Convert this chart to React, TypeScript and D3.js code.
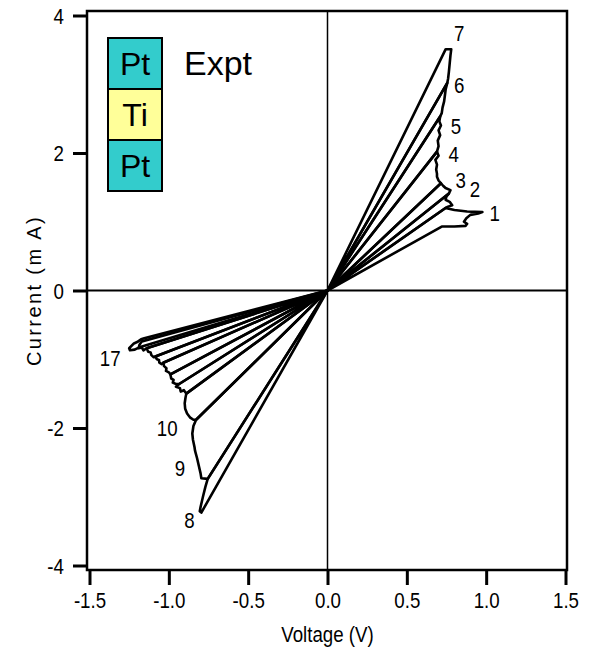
import React, { useRef, useEffect } from "react";
import * as d3 from "d3";

// I-V loops, [voltage (V), current (mA)]
const loop1 = [[0, 0], [0.744, 1.2], [0.8, 1.17], [0.88, 1.15], [0.976, 1.14], [0.95, 1.12], [0.9, 1.1], [0.875, 1.05], [0.86, 1.0], [0.88, 0.97], [0.87, 0.94], [0.8, 0.93], [0.72, 0.93], [0, 0]];
const loop2 = [[0, 0], [0.765, 1.41], [0.75, 1.37], [0.744, 1.32], [0.77, 1.29], [0.786, 1.24], [0.76, 1.22], [0.744, 1.2], [0, 0]];
const loop3 = [[0, 0], [0.715, 1.56], [0.73, 1.52], [0.744, 1.49], [0.775, 1.46], [0.765, 1.41], [0, 0]];
const loop4 = [[0, 0], [0.69, 2.02], [0.7, 1.96], [0.68, 1.9], [0.69, 1.83], [0.685, 1.76], [0.69, 1.7], [0.69, 1.655], [0.7, 1.6], [0.715, 1.56], [0, 0]];
const loop5 = [[0, 0], [0.71, 2.53], [0.705, 2.46], [0.715, 2.4], [0.7, 2.33], [0.71, 2.26], [0.695, 2.18], [0.7, 2.1], [0.69, 2.02], [0, 0]];
const loop6 = [[0, 0], [0.755, 3.02], [0.745, 2.93], [0.74, 2.84], [0.735, 2.75], [0.725, 2.66], [0.72, 2.58], [0.71, 2.53], [0, 0]];
const loop7 = [[0, 0], [0.745, 3.51], [0.78, 3.51], [0.775, 3.42], [0.77, 3.3], [0.765, 3.18], [0.76, 3.08], [0.755, 3.02], [0, 0]];
const loop8 = [[0, 0], [-0.755, -2.74], [-0.77, -2.86], [-0.785, -3.0], [-0.8, -3.15], [-0.805, -3.21], [-0.795, -3.23], [0, 0]];
const loop9 = [[0, 0], [-0.828, -1.88], [-0.845, -1.97], [-0.852, -2.08], [-0.848, -2.17], [-0.838, -2.28], [-0.835, -2.33], [-0.822, -2.44], [-0.81, -2.56], [-0.8, -2.66], [-0.795, -2.73], [-0.755, -2.74], [0, 0]];
const loop10 = [[0, 0], [-0.89, -1.5], [-0.895, -1.56], [-0.9, -1.64], [-0.897, -1.72], [-0.885, -1.79], [-0.865, -1.85], [-0.845, -1.88], [-0.828, -1.88], [0, 0]];
const loop11 = [[0, 0], [-0.935, -1.36], [-0.955, -1.4], [-0.93, -1.42], [-0.925, -1.47], [-0.905, -1.45], [-0.89, -1.5], [0, 0]];
const loop12 = [[0, 0], [-0.99, -1.22], [-0.985, -1.28], [-0.97, -1.3], [-0.975, -1.34], [-0.955, -1.36], [-0.935, -1.36], [0, 0]];
const loop13 = [[0, 0], [-1.035, -1.05], [-1.03, -1.1], [-1.015, -1.13], [-1.018, -1.17], [-1.0, -1.19], [-0.99, -1.22], [0, 0]];
const loop14 = [[0, 0], [-1.085, -0.96], [-1.075, -1.0], [-1.062, -1.01], [-1.06, -1.05], [-1.045, -1.07], [-1.035, -1.05], [0, 0]];
const loop15 = [[0, 0], [-1.14, -0.84], [-1.13, -0.89], [-1.115, -0.9], [-1.11, -0.94], [-1.095, -0.97], [-1.085, -0.96], [0, 0]];
const loop16 = [[0, 0], [-1.17, -0.74], [-1.185, -0.79], [-1.19, -0.84], [-1.17, -0.83], [-1.16, -0.87], [-1.14, -0.84], [0, 0]];
const loop17 = [[0, 0], [-1.155, -0.695], [-1.175, -0.71], [-1.2, -0.75], [-1.22, -0.77], [-1.25, -0.84], [-1.245, -0.87], [-1.215, -0.86], [-1.19, -0.83], [0, 0]];

const loops = [loop1, loop2, loop3, loop4, loop5, loop6, loop7, loop8, loop9, loop10, loop11, loop12, loop13, loop14, loop15, loop16, loop17];

// cycle numbers and where they sit (data coords)
const labelText = ["1", "2", "3", "4", "5", "6", "7", "8", "9", "10", "17"];
const labelV = [1.054, 0.93, 0.84, 0.795, 0.81, 0.83, 0.83, -0.87, -0.93, -1.01, -1.37];
const labelI = [1.13, 1.48, 1.61, 1.98, 2.39, 2.99, 3.74, -3.34, -2.58, -2.0, -0.99];

const xTicks = [-1.5, -1.0, -0.5, 0.0, 0.5, 1.0, 1.5];
const yTicks = [-4, -2, 0, 2, 4];
const stack = [
  { name: "Pt", color: "#33cccc" },
  { name: "Ti", color: "#ffff99" },
  { name: "Pt", color: "#33cccc" },
];

const sans = "'Liberation Sans', Arial, sans-serif";
const squeeze = 0.85; // narrow face look

const App = () => {
  const svgRef = useRef<SVGSVGElement>(null);

  useEffect(() => {
    const svg = d3.select(svgRef.current);
    svg.selectAll("*").remove();

    const x = d3.scaleLinear().domain([-1.5, 1.5]).range([89.5, 565.5]);
    const y = d3.scaleLinear().domain([-4, 4]).range([565.5, 15.5]);

    // frame
    const frame = { left: 87, top: 11, right: 567, bottom: 570 };
    svg.append("rect")
      .attr("x", frame.left).attr("y", frame.top)
      .attr("width", frame.right - frame.left).attr("height", frame.bottom - frame.top)
      .attr("fill", "none").attr("stroke", "#000").attr("stroke-width", 2.5);

    // zero lines
    svg.append("line")
      .attr("x1", frame.left).attr("x2", frame.right)
      .attr("y1", y(0)).attr("y2", y(0))
      .attr("stroke", "#000").attr("stroke-width", 2);
    svg.append("line")
      .attr("x1", x(0)).attr("x2", x(0))
      .attr("y1", frame.top).attr("y2", frame.bottom)
      .attr("stroke", "#000").attr("stroke-width", 1.5);

    // x axis
    const xAxis = svg.append("g")
      .attr("transform", `translate(0,${frame.bottom})`)
      .call(d3.axisBottom(x).tickValues(xTicks).tickSize(15));
    xAxis.select(".domain").remove();
    xAxis.selectAll("line").attr("stroke-width", 3);
    xAxis.selectAll("text")
      .attr("y", 0).attr("dy", 0)
      .attr("transform", `translate(0,38) scale(${squeeze},1)`)
      .style("font-family", sans).style("font-size", "22px").attr("fill", "#000")
      .text((d: any) => (d < 0 ? "-" : "") + d3.format(".1f")(Math.abs(d)));

    // y axis
    const yAxis = svg.append("g")
      .attr("transform", `translate(${frame.left},0)`)
      .call(d3.axisLeft(y).tickValues(yTicks).tickSize(14));
    yAxis.select(".domain").remove();
    yAxis.selectAll("line").attr("stroke-width", 3);
    yAxis.selectAll("text")
      .attr("x", 0).attr("dy", "0.36em")
      .attr("transform", `translate(-23,0) scale(${squeeze},1)`)
      .style("font-family", sans).style("font-size", "22px").attr("fill", "#000")
      .text((d: any) => (d < 0 ? "-" : "") + Math.abs(d));

    // axis titles
    svg.append("text")
      .attr("transform", `translate(${x(0)},642) scale(${squeeze},1)`)
      .attr("text-anchor", "middle")
      .style("font-family", sans).style("font-size", "22px")
      .text("Voltage (V)");
    svg.append("text")
      .attr("transform", `translate(41,${y(0)}) rotate(-90)`)
      .attr("text-anchor", "middle")
      .style("font-family", sans).style("font-size", "20px").style("letter-spacing", "2.4px")
      .text("Current (m A)");

    // loops
    const line = d3.line<number[]>().x((d) => x(d[0])).y((d) => y(d[1]));
    svg.append("g")
      .selectAll("path")
      .data(loops)
      .join("path")
      .attr("d", (d) => line(d))
      .attr("fill", "none")
      .attr("stroke", "#000")
      .attr("stroke-width", 2.6)
      .attr("stroke-linejoin", "round");

    // cycle labels
    svg.append("g")
      .selectAll("text")
      .data(labelText)
      .join("text")
      .attr("transform", (d, i) => `translate(${x(labelV[i])},${y(labelI[i])}) scale(${squeeze},1)`)
      .attr("dy", "0.36em")
      .attr("text-anchor", "middle")
      .style("font-family", sans).style("font-size", "22px")
      .text((d) => d);

    // Pt/Ti/Pt stack
    const boxW = 54, boxH = 51, bx = 108, by = 38;
    const st = svg.append("g");
    st.selectAll("rect")
      .data(stack)
      .join("rect")
      .attr("x", bx).attr("y", (d, i) => by + i * boxH)
      .attr("width", boxW).attr("height", boxH)
      .attr("fill", (d) => d.color).attr("stroke", "#000").attr("stroke-width", 2);
    st.selectAll("text")
      .data(stack)
      .join("text")
      .attr("x", bx + boxW / 2).attr("y", (d, i) => by + i * boxH + boxH / 2)
      .attr("dy", "0.36em")
      .attr("text-anchor", "middle")
      .style("font-family", sans).style("font-size", "32px")
      .text((d) => d.name);

    svg.append("text")
      .attr("x", 184).attr("y", 75)
      .style("font-family", sans).style("font-size", "34px")
      .text("Expt");
  }, []);

  return (
    <svg
      ref={svgRef}
      width={593}
      height={650}
      style={{ position: "absolute", left: 0, top: 0, background: "#fff" }}
    />
  );
};

export default App;
